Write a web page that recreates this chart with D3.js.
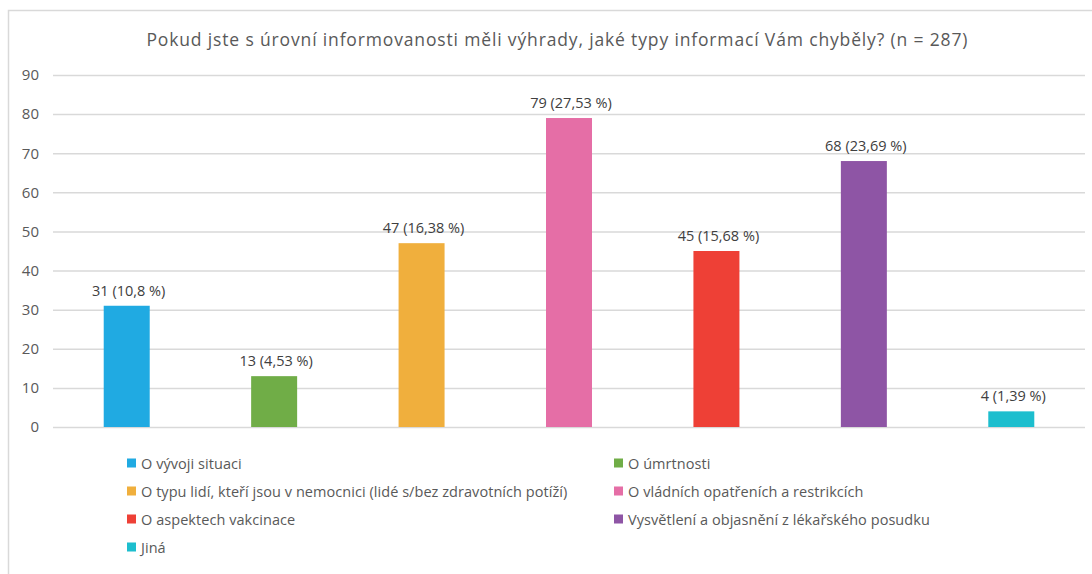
<!DOCTYPE html>
<html><head><meta charset="utf-8">
<script src="https://cdn.jsdelivr.net/npm/d3@7"></script>
<style>body{margin:0;background:#fff;}svg{display:block;font-family:"Open Sans","Noto Sans",sans-serif;}</style>
</head><body><svg id="c" width="1092" height="574"></svg>
<script>
const title = "Pokud jste s úrovní informovanosti měli výhrady, jaké typy informací Vám chyběly? (n = 287)";
const categories = ["O vývoji situaci","O úmrtnosti","O typu lidí, kteří jsou v nemocnici (lidé s/bez zdravotních potíží)","O vládních opatřeních a restrikcích","O aspektech vakcinace","Vysvětlení a objasnění z lékařského posudku","Jiná"];
const values = [31,13,47,79,45,68,4];
const percents = ["10,8","4,53","16,38","27,53","15,68","23,69","1,39"];
const colors = ["#20AAE2","#70AD47","#F0AF3D","#E56EA6","#EE4036","#8E55A5","#1DBECE"];
const yTicks = [0,10,20,30,40,50,60,70,80,90];

const svg = d3.select("#c");
svg.append("rect").attr("x",8.5).attr("y",10.5).attr("width",1200).attr("height",700)
  .attr("fill","none").attr("stroke","#d9d9d9").attr("stroke-width",1.5);

svg.append("text").attr("x",557).attr("y",46).attr("text-anchor","middle")
  .attr("font-size",17.5).attr("fill","#595959")
  .attr("textLength",821).attr("lengthAdjust","spacing").text(title);

const x = d3.scaleBand().domain(categories).range([53,1085]).paddingInner(0.688).paddingOuter(0.344);
const y = d3.scaleLinear().domain([0,90]).range([427,75]);

const yAxis = svg.append("g").attr("transform","translate(53,0)")
  .call(d3.axisLeft(y).tickValues(yTicks).tickSize(-1032).tickPadding(14));
yAxis.select(".domain").remove();
yAxis.selectAll(".tick line").attr("stroke","#d9d9d9").attr("stroke-width",1.5);
yAxis.selectAll(".tick text").attr("font-size",15).attr("fill","#595959").attr("font-family","'Open Sans',sans-serif");

svg.append("g").selectAll("rect").data(categories).join("rect")
  .attr("x",d=>x(d)).attr("width",x.bandwidth())
  .attr("y",(d,i)=>y(values[i])).attr("height",(d,i)=>y(0)-y(values[i]))
  .attr("fill",(d,i)=>colors[i]);

svg.append("g").selectAll("text").data(categories).join("text")
  .attr("x",d=>x(d)+x.bandwidth()/2+2).attr("y",(d,i)=>y(values[i])-10)
  .attr("text-anchor","middle").attr("font-size",14.5).attr("fill","#404040")
  .text((d,i)=>`${values[i]} (${percents[i]} %)`);

const lg = svg.append("g").selectAll("g").data(categories).join("g")
  .attr("transform",(d,i)=>`translate(${i%2===0?127:614},${463+Math.floor(i/2)*28})`);
lg.append("rect").attr("x",0).attr("y",-4.5).attr("width",9).attr("height",9).attr("fill",(d,i)=>colors[i]);
lg.append("text").attr("x",14).attr("y",6).attr("font-size",14.5).attr("fill","#595959")
  .attr("letter-spacing",0.05).text(d=>d);
</script></body></html>
